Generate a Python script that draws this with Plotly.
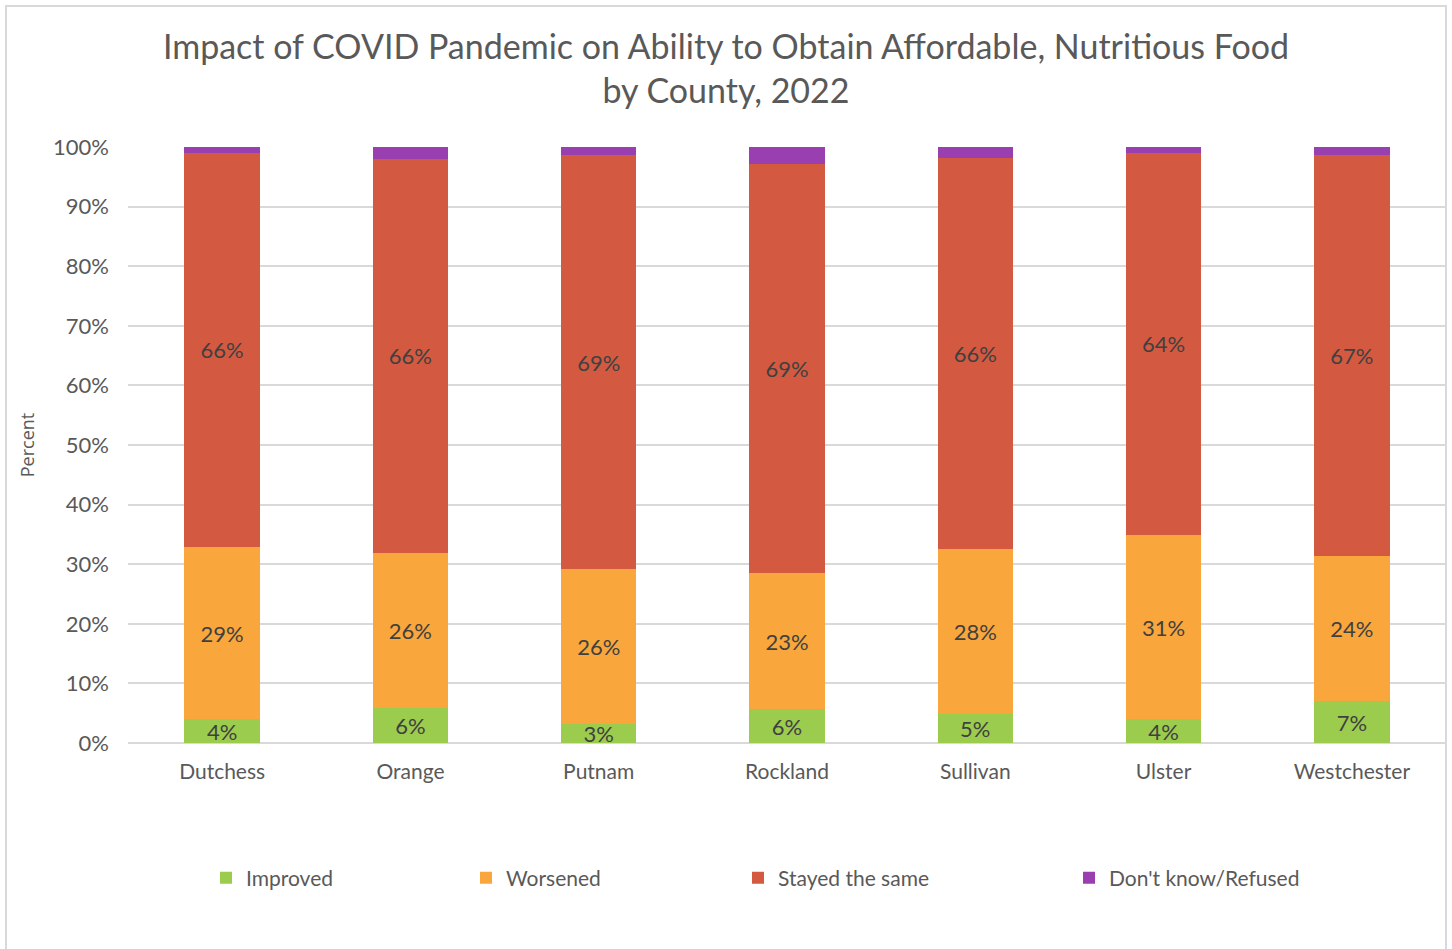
import plotly.graph_objects as go

counties = ["Dutchess", "Orange", "Putnam", "Rockland", "Sullivan", "Ulster", "Westchester"]
improved = [4.0, 5.9, 3.2, 5.7, 4.9, 4.0, 7.0]
worsened = [28.9, 26.0, 26.0, 22.8, 27.7, 30.9, 24.3]
stayed = [66.1, 66.1, 69.4, 68.6, 65.6, 64.1, 67.4]
dont_know = [1.0, 2.0, 1.4, 2.9, 1.8, 1.0, 1.3]

series = [
    ("Improved", improved, "#9BCC4D", True),
    ("Worsened", worsened, "#F9A73C", True),
    ("Stayed the same", stayed, "#D35A40", True),
    ("Don't know/Refused", dont_know, "#993FB0", False),
]

W, H = 1452, 949
L, R, T, B = 128, 1446, 147, 743

def px_x(px):
    return (px - L) / (R - L)

def px_y(py):
    return (B - py) / (B - T)

legend_px = [206, 466, 738, 1069]
legend_names = ["legend", "legend2", "legend3", "legend4"]

FONT = "Lato, 'Open Sans', sans-serif"

fig = go.Figure()
for i, (name, vals, color, show_text) in enumerate(series):
    fig.add_trace(go.Bar(
        x=counties, y=vals, name=name,
        marker=dict(color=color, line=dict(width=0)),
        text=[f"{v:.0f}%" for v in vals] if show_text else None,
        textposition="inside" if show_text else "none",
        insidetextanchor="middle",
        constraintext="none",
        textangle=0,
        textfont=dict(family=FONT, size=22, color="#404040"),
        legend=legend_names[i],
        hoverinfo="x+y+name",
    ))

layout_legends = {}
for i, ln in enumerate(legend_names):
    layout_legends[ln] = dict(
        x=px_x(legend_px[i]), y=px_y(878), xanchor="left", yanchor="middle",
        orientation="h", font=dict(family=FONT, size=21, color="#595959"),
        bgcolor="rgba(0,0,0,0)", itemwidth=30, tracegroupgap=0,
    )

fig.update_layout(
    width=W, height=H,
    barmode="stack",
    bargap=0.6,
    paper_bgcolor="white", plot_bgcolor="white",
    margin=dict(l=L, r=W - R, t=T, b=H - B, autoexpand=False),
    title=dict(
        text="Impact of COVID Pandemic on Ability to Obtain Affordable, Nutritious Food<br>by County, 2022",
        x=0.5, xref="container", xanchor="center",
        y=1 - 59 / H, yref="container", yanchor="middle",
        font=dict(family=FONT, size=34, color="#595959"),
    ),
    xaxis=dict(
        tickfont=dict(family=FONT, size=21, color="#595959"),
        showgrid=False, showline=False, ticks="",
        ticklabelstandoff=14,
        fixedrange=True,
    ),
    yaxis=dict(
        range=[0, 100], dtick=10, ticksuffix="%",
        tickfont=dict(family=FONT, size=22, color="#595959"),
        showgrid=True, gridcolor="#D9D9D9", gridwidth=2,
        zeroline=True, zerolinecolor="#D9D9D9", zerolinewidth=2,
        showline=False, ticks="", ticklen=0,
        ticklabelstandoff=18,
        title=dict(text="Percent", font=dict(family="'Open Sans', sans-serif", size=18, color="#595959"), standoff=13),
    ),
    showlegend=True,
    **layout_legends,
    shapes=[dict(
        type="rect", xref="paper", yref="paper",
        x0=px_x(6), x1=px_x(1446), y0=px_y(960), y1=px_y(6),
        line=dict(color="#D9D9D9", width=2), fillcolor="rgba(0,0,0,0)", layer="below",
    )],
)

fig.write_html("out.html", config={"displayModeBar": False},
               post_script="document.body.style.margin='0';")
